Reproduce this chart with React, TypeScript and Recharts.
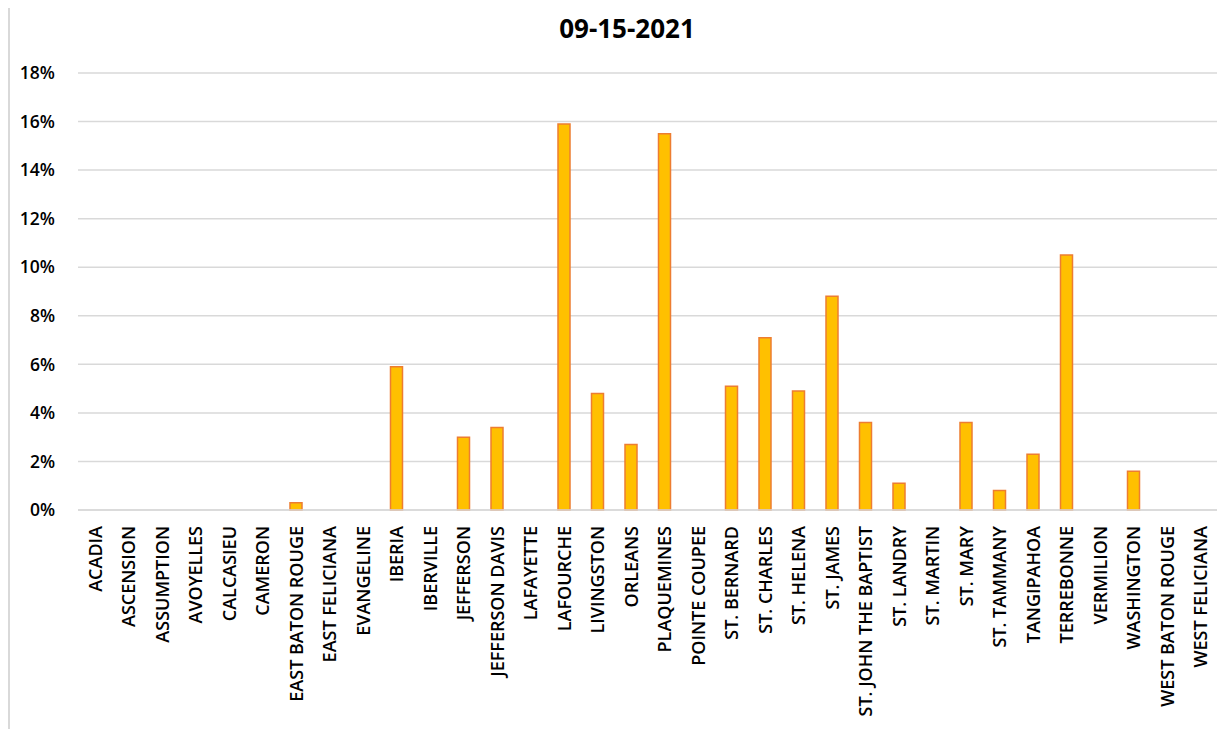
import { Bar, BarChart, CartesianGrid, XAxis, YAxis } from "recharts";

const parishes = [
  "ACADIA", "ASCENSION", "ASSUMPTION", "AVOYELLES", "CALCASIEU", "CAMERON",
  "EAST BATON ROUGE", "EAST FELICIANA", "EVANGELINE", "IBERIA", "IBERVILLE",
  "JEFFERSON", "JEFFERSON DAVIS", "LAFAYETTE", "LAFOURCHE", "LIVINGSTON",
  "ORLEANS", "PLAQUEMINES", "POINTE COUPEE", "ST. BERNARD", "ST. CHARLES",
  "ST. HELENA", "ST. JAMES", "ST. JOHN THE BAPTIST", "ST. LANDRY", "ST. MARTIN",
  "ST. MARY", "ST. TAMMANY", "TANGIPAHOA", "TERREBONNE", "VERMILION",
  "WASHINGTON", "WEST BATON ROUGE", "WEST FELICIANA",
];

// percent positive
const rates = [
  0, 0, 0, 0, 0, 0,
  0.3, 0, 0, 5.9, 0,
  3.0, 3.4, 0, 15.9, 4.8,
  2.7, 15.5, 0, 5.1, 7.1,
  4.9, 8.8, 3.6, 1.1, 0,
  3.6, 0.8, 2.3, 10.5, 0,
  1.6, 0, 0,
];

const yTicks = [0, 2, 4, 6, 8, 10, 12, 14, 16, 18];

const data = parishes.map((name, i) => ({ name, rate: rates[i] }));

const font = "'Open Sans', sans-serif";

function ParishTick({ x, y, payload }: any) {
  return (
    <text
      x={x}
      y={y}
      transform={`rotate(-90, ${x}, ${y})`}
      textAnchor="end"
      dominantBaseline="central"
      fill="#000"
      fontFamily={font}
      fontWeight={600}
      fontSize={18}
    >
      {payload.value}
    </text>
  );
}

export default function App() {
  return (
    <div style={{ position: "relative", width: 1220, height: 721, borderLeft: "2px solid #d9d9d9", boxSizing: "border-box" }}>
      <div
        style={{
          position: "absolute",
          left: 0,
          width: 1234,
          top: 2,
          textAlign: "center",
          fontFamily: font,
          fontWeight: 700,
          fontSize: 26,
          color: "#000",
        }}
      >
        09-15-2021
      </div>
      <BarChart width={1218} height={721} data={data} margin={{ top: 65, right: 11, left: 0, bottom: 0 }} barSize={12}>
        <CartesianGrid vertical={false} stroke="#d9d9d9" strokeWidth={1.5} />
        <XAxis
          dataKey="name"
          interval={0}
          height={219}
          axisLine={{ stroke: "#d9d9d9", strokeWidth: 1.5 }}
          tickLine={false}
          tick={<ParishTick />}
          tickMargin={10}
        />
        <YAxis
          domain={[0, 18]}
          ticks={yTicks}
          width={68}
          axisLine={false}
          tickLine={false}
          tickFormatter={(v: number) => `${v}%`}
          tick={{ fill: "#000", fontFamily: font, fontWeight: 600, fontSize: 17.5 }}
          tickMargin={17}
        />
        <Bar dataKey="rate" fill="#FFC000" stroke="#ED7D31" strokeWidth={1.5} isAnimationActive={false} />
      </BarChart>
    </div>
  );
}
